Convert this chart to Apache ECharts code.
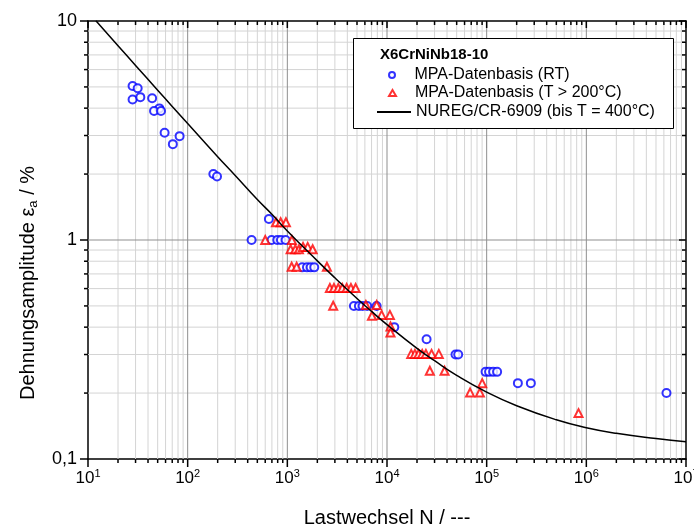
<!DOCTYPE html>
<html>
<head>
<meta charset="utf-8">
<script src="https://cdn.jsdelivr.net/npm/echarts@6/dist/echarts.min.js"></script>
<style>
html,body{margin:0;padding:0;background:#fff;}
#chart{width:694px;height:530px;}
</style>
</head>
<body>
<div id="chart"></div>
<script>
// ---- data (N, strain amplitude %) ----
const rtN   = [28, 31.5, 28, 33.5, 44, 52, 46, 54, 58.7, 83, 71, 181, 197,
               653, 438, 695, 792, 863, 961,
               1409, 1574, 1713, 1862,
               4656, 5224, 5688, 6324, 7870,
               11830, 24950, 48700, 51800,
               97500, 105700, 116100, 127300,
               205700, 277500, 6370000];
const rtEps = [5.05, 4.93, 4.38, 4.49, 4.44, 3.99, 3.88, 3.88, 3.09, 2.98, 2.74, 2.0, 1.95,
               1.247, 1.0, 1.0, 1.0, 1.0, 1.0,
               0.75, 0.75, 0.75, 0.75,
               0.50, 0.50, 0.50, 0.50, 0.50,
               0.40, 0.352, 0.30, 0.30,
               0.25, 0.25, 0.25, 0.25,
               0.222, 0.222, 0.20];

const htN   = [769, 857, 968, 600, 1111,
               1079, 1202, 1307, 1437, 1600, 1795,
               1105, 1240, 2495,
               2673, 2934, 3243, 3557, 3936, 4345, 4842,
               2884, 6137, 7870,
               7063, 8831, 10690,
               10840, 10840,
               17500, 19050, 20750, 22550, 24550, 28000, 33100,
               26900, 37800,
               90200, 68200, 85500, 835000];
const htEps = [1.205, 1.205, 1.205, 1.0, 1.0,
               0.907, 0.907, 0.907, 0.93, 0.93, 0.907,
               0.755, 0.755, 0.755,
               0.604, 0.604, 0.604, 0.604, 0.604, 0.604, 0.604,
               0.501, 0.505, 0.505,
               0.451, 0.455, 0.455,
               0.403, 0.378,
               0.302, 0.302, 0.302, 0.302, 0.302, 0.302, 0.302,
               0.253, 0.253,
               0.222, 0.201, 0.201, 0.162];

const curveN   = [12, 20, 30, 50, 70, 100, 200, 300, 500, 700, 1000, 2000, 3000, 5000, 7000,
                  1e4, 2e4, 3e4, 5e4, 1e5, 2e5, 5e5, 1e6, 2e6, 5e6, 1e7];
const curveEps = [10.03, 7.71, 6.27, 4.83, 4.07, 3.40, 2.40, 1.97, 1.53, 1.31, 1.10, 0.803, 0.672, 0.541, 0.472,
                  0.411, 0.320, 0.281, 0.241, 0.202, 0.175, 0.151, 0.139, 0.131, 0.124, 0.120];

const xDecades = [10, 100, 1000, 1e4, 1e5, 1e6, 1e7];
const yDecades = [0.1, 1, 10];
const yTickLabels = {'0.1': '0,1', '1': '1', '10': '10'};

const nameRT = 'MPA-Datenbasis (RT)';
const nameHT = 'MPA-Datenbasis (T > 200°C)';
const nameCurve = 'NUREG/CR-6909 (bis T = 400°C)';
const legendTitle = 'X6CrNiNb18-10';

// ---- build ----
const zip = (a, b) => a.map((v, i) => [v, b[i]]);
const FONT = "'Liberation Sans', Arial, sans-serif";

function minorsOf(decades) {
  const out = [];
  for (let i = 0; i < decades.length - 1; i++) {
    for (let m = 2; m <= 9; m++) out.push(+(decades[i] * m).toPrecision(6));
  }
  return out;
}
const xMinor = minorsOf(xDecades);
const yMinor = minorsOf(yDecades);
const xMin = xDecades[0], xMax = xDecades[xDecades.length - 1];
const yMin = yDecades[0], yMax = yDecades[yDecades.length - 1];

function gridRender(params, api) {
  if (params.dataIndex !== 0) return;
  const ch = [];
  const line = (p1, p2, color, w) => ch.push({type: 'line', shape: {x1: p1[0], y1: p1[1], x2: p2[0], y2: p2[1]}, style: {stroke: color, lineWidth: w}});
  xMinor.forEach(v => line(api.coord([v, yMin]), api.coord([v, yMax]), '#d4d4d4', 1));
  yMinor.forEach(v => line(api.coord([xMin, v]), api.coord([xMax, v]), '#d4d4d4', 1));
  xDecades.slice(1, -1).forEach(v => line(api.coord([v, yMin]), api.coord([v, yMax]), '#8f8f8f', 1));
  yDecades.slice(1, -1).forEach(v => line(api.coord([xMin, v]), api.coord([xMax, v]), '#8f8f8f', 1));
  return {type: 'group', children: ch};
}

function tickRender(params, api) {
  if (params.dataIndex !== 0) return;
  const ch = [];
  const line = (x1, y1, x2, y2) => ch.push({type: 'line', shape: {x1, y1, x2, y2}, style: {stroke: '#000', lineWidth: 1.5}});
  const yb = api.coord([xMin, yMin])[1], yt = api.coord([xMin, yMax])[1];
  const xl = api.coord([xMin, yMin])[0], xr = api.coord([xMax, yMin])[0];
  const xt = (v, L, l) => {
    const px = api.coord([v, yMin])[0];
    line(px, yb, px, yb + L);
    line(px, yt, px, yt + l);
  };
  const yt2 = (v, L, l) => {
    const py = api.coord([xMin, v])[1];
    line(xl - L, py, xl, py);
    line(xr - l, py, xr, py);
  };
  xMinor.forEach(v => xt(v, 4, 4));
  xDecades.forEach(v => xt(v, 8, 7));
  yMinor.forEach(v => yt2(v, 4, 4));
  yDecades.forEach(v => yt2(v, 8, 7));
  return {type: 'group', children: ch};
}

const chart = echarts.init(document.getElementById('chart'), null, {renderer: 'canvas'});

const axisLineStyle = {show: true, lineStyle: {color: '#000', width: 1.5}};
const legendText = {fontSize: 16, color: '#000', fontFamily: FONT};
const legendTextPad = {fontSize: 16, color: '#000', fontFamily: FONT, padding: [0, 0, 0, 14]};

const option = {
  animation: false,
  backgroundColor: '#fff',
  textStyle: {fontFamily: FONT},
  grid: {left: 88, right: 8, top: 21, bottom: 71, containLabel: false, outerBoundsMode: 'none'},
  xAxis: [
    {
      type: 'log', logBase: 10, min: xMin, max: xMax, position: 'bottom',
      axisLine: axisLineStyle, axisTick: {show: false}, splitLine: {show: false},
      axisLabel: {
        margin: 9, color: '#000', hideOverlap: false,
        formatter: v => '{b|10}{s|' + Math.round(Math.log10(v)) + '}',
        rich: {b: {fontSize: 17, lineHeight: 20, fontFamily: FONT, color: '#000'},
               s: {fontSize: 11, lineHeight: 11, verticalAlign: 'top', fontFamily: FONT, color: '#000'}}
      },
      name: 'Lastwechsel N / ---', nameLocation: 'middle', nameGap: 49,
      nameTextStyle: {fontSize: 20, color: '#000', fontFamily: FONT}
    },
    {
      type: 'log', logBase: 10, min: xMin, max: xMax, position: 'top',
      axisLine: axisLineStyle, axisTick: {show: false}, axisLabel: {show: false}, splitLine: {show: false}
    }
  ],
  yAxis: [
    {
      type: 'log', logBase: 10, min: yMin, max: yMax, position: 'left',
      axisLine: axisLineStyle, axisTick: {show: false}, splitLine: {show: false},
      axisLabel: {
        margin: 11, color: '#000', fontSize: 18, fontFamily: FONT,
        formatter: v => yTickLabels[String(+v.toPrecision(3))] || String(v)
      }
    },
    {
      type: 'log', logBase: 10, min: yMin, max: yMax, position: 'right',
      axisLine: axisLineStyle, axisTick: {show: false}, axisLabel: {show: false}, splitLine: {show: false}
    }
  ],
  legend: [
    {data: [nameRT], left: 388, top: 67, padding: 0, itemWidth: 7, itemHeight: 6, z: 20, textStyle: legendTextPad},
    {data: [nameHT], left: 388, top: 85, padding: 0, itemWidth: 7, itemHeight: 6, z: 20, textStyle: legendTextPad},
    {data: [nameCurve], left: 376, top: 104, padding: 0, itemWidth: 34, itemHeight: 6, z: 20, textStyle: legendText,
     itemStyle: {opacity: 0}}
  ],
  graphic: [
    {type: 'rect', left: 353, top: 38, z: 2,
     shape: {width: 320, height: 90}, style: {fill: '#fff', stroke: '#000', lineWidth: 1}},
    {type: 'text', left: 380, top: 47, z: 21,
     style: {text: legendTitle, font: 'bold 15px ' + FONT, fill: '#000'}},
    {type: 'text', x: 28, y: 283, rotation: Math.PI / 2, z: 21,
     style: {
       text: '{t|Dehnungsamplitude ε}{sub|a}{t| / %}',
       align: 'center', verticalAlign: 'middle',
       rich: {t: {fontSize: 20, lineHeight: 24, fontFamily: FONT, fill: '#000'},
              sub: {fontSize: 13, lineHeight: 13, verticalAlign: 'bottom', fontFamily: FONT, fill: '#000'}}
     }}
  ],
  series: [
    {type: 'custom', name: 'grid', renderItem: gridRender, data: [[xMin, yMin]], z: 1, silent: true, clip: false},
    {type: 'scatter', name: nameRT, data: zip(rtN, rtEps), symbol: 'emptyCircle', symbolSize: 8,
     itemStyle: {color: '#0000ff', borderColor: '#0000ff', borderWidth: 1}, z: 3},
    {type: 'scatter', name: nameHT, data: zip(htN, htEps), symbol: 'emptyTriangle', symbolSize: 8,
     itemStyle: {color: '#ff0000', borderColor: '#ff0000', borderWidth: 1}, z: 3},
    {type: 'line', name: nameCurve, data: zip(curveN, curveEps), symbol: 'none', smooth: true,
     lineStyle: {color: '#000', width: 1.5}, itemStyle: {color: '#000'}, z: 4},
    {type: 'custom', name: 'ticks', renderItem: tickRender, data: [[xMin, yMin]], z: 5, silent: true, clip: false}
  ]
};
chart.setOption(option);
</script>
</body>
</html>
